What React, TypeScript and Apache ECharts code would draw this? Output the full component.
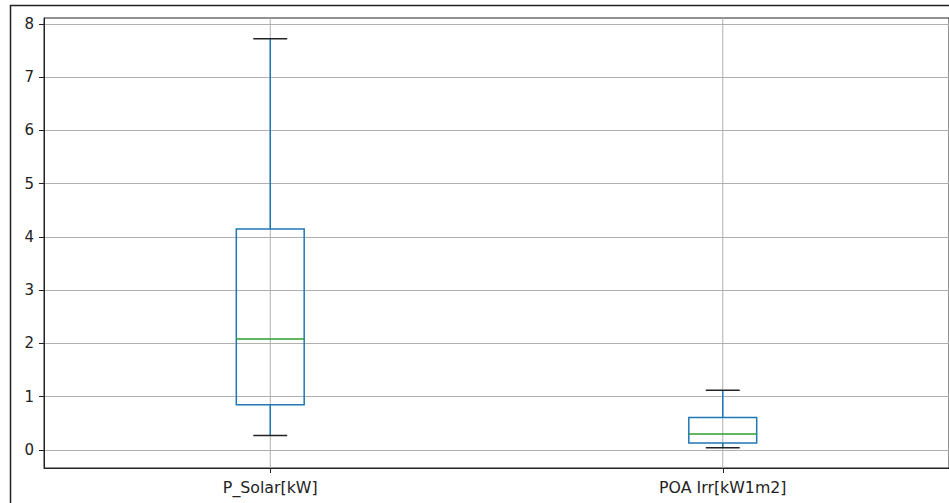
import React, { useEffect, useRef } from 'react';
import * as echarts from 'echarts';

// Box statistics per column
const categories = ['P_Solar[kW]', 'POA Irr[kW1m2]'];
const whiskerLow = [0.27, 0.04];
const q1 = [0.85, 0.13];
const median = [2.08, 0.3];
const q3 = [4.15, 0.61];
const whiskerHigh = [7.72, 1.12];
const yTicks = [0, 1, 2, 3, 4, 5, 6, 7, 8];

const BLUE = '#1f77b4';
const GREEN = '#2ca02c';
const GRID = '#b0b0b0';
const INK = '#222222';

export default function App() {
  const ref = useRef<HTMLDivElement>(null);

  useEffect(() => {
    if (!ref.current) return;
    const chart = echarts.init(ref.current, undefined, { renderer: 'svg' });

    const data = categories.map((_, i) => [i, whiskerLow[i], q1[i], median[i], q3[i], whiskerHigh[i]]);

    chart.setOption({
      animation: false,
      backgroundColor: '#ffffff',
      textStyle: { fontFamily: 'DejaVu Sans' },
      graphic: [
        {
          type: 'rect',
          shape: { x: 10.5, y: 5.5, width: 1000, height: 1000 },
          style: { fill: 'none', stroke: INK, lineWidth: 1.5 },
          silent: true,
        },
      ],
      grid: {
        left: 44,
        top: 18,
        width: 906,
        height: 450,
        show: true,
        backgroundColor: '#ffffff',
        borderColor: INK,
        borderWidth: 1,
      },
      xAxis: {
        type: 'category',
        data: categories,
        boundaryGap: true,
        axisLine: { show: true, onZero: false, lineStyle: { color: INK, width: 1 } },
        axisTick: { show: true, alignWithLabel: true, length: 5, lineStyle: { color: INK } },
        axisLabel: { color: INK, fontSize: 15.8, margin: 11, fontFamily: 'DejaVu Sans' },
        splitLine: { show: false },
      },
      yAxis: {
        type: 'value',
        min: -0.34,
        max: 8.11,
        axisLine: { show: true, onZero: false, lineStyle: { color: INK, width: 1 } },
        axisTick: { show: true, length: 5, lineStyle: { color: INK }, customValues: yTicks },
        axisLabel: { color: INK, fontSize: 15, margin: 10, fontFamily: 'DejaVu Sans', customValues: yTicks },
        splitLine: { show: true, lineStyle: { color: GRID, width: 1 } },
      },
      series: [
        {
          type: 'custom',
          data,
          encode: { x: 0, y: [1, 2, 3, 4, 5] },
          renderItem: (params: any, api: any) => {
            const i = api.value(0);
            const band = api.size([1, 0])[0];
            const half = (band * 0.15) / 2;
            const capHalf = half / 2;
            const [cx, yLo] = api.coord([i, api.value(1)]);
            const yQ1 = api.coord([i, api.value(2)])[1];
            const yMed = api.coord([i, api.value(3)])[1];
            const yQ3 = api.coord([i, api.value(4)])[1];
            const yHi = api.coord([i, api.value(5)])[1];
            const cs = params.coordSys;
            const lw = 1.5;
            return {
              type: 'group',
              children: [
                {
                  type: 'line',
                  shape: { x1: cx, y1: cs.y, x2: cx, y2: cs.y + cs.height },
                  style: { stroke: GRID, lineWidth: 1 },
                },
                {
                  type: 'line',
                  shape: { x1: cx, y1: yQ1, x2: cx, y2: yLo },
                  style: { stroke: BLUE, lineWidth: lw },
                },
                {
                  type: 'line',
                  shape: { x1: cx, y1: yQ3, x2: cx, y2: yHi },
                  style: { stroke: BLUE, lineWidth: lw },
                },
                {
                  type: 'rect',
                  shape: { x: cx - half, y: yQ3, width: half * 2, height: yQ1 - yQ3 },
                  style: { fill: 'none', stroke: BLUE, lineWidth: lw },
                },
                {
                  type: 'line',
                  shape: { x1: cx - half, y1: yMed, x2: cx + half, y2: yMed },
                  style: { stroke: GREEN, lineWidth: lw },
                },
                {
                  type: 'line',
                  shape: { x1: cx - capHalf, y1: yLo, x2: cx + capHalf, y2: yLo },
                  style: { stroke: INK, lineWidth: lw },
                },
                {
                  type: 'line',
                  shape: { x1: cx - capHalf, y1: yHi, x2: cx + capHalf, y2: yHi },
                  style: { stroke: INK, lineWidth: lw },
                },
              ],
            };
          },
        },
      ],
    });

    return () => chart.dispose();
  }, []);

  return (
    <div
      ref={ref}
      style={{ position: 'fixed', left: 0, top: 0, width: 949, height: 503 }}
    />
  );
}
